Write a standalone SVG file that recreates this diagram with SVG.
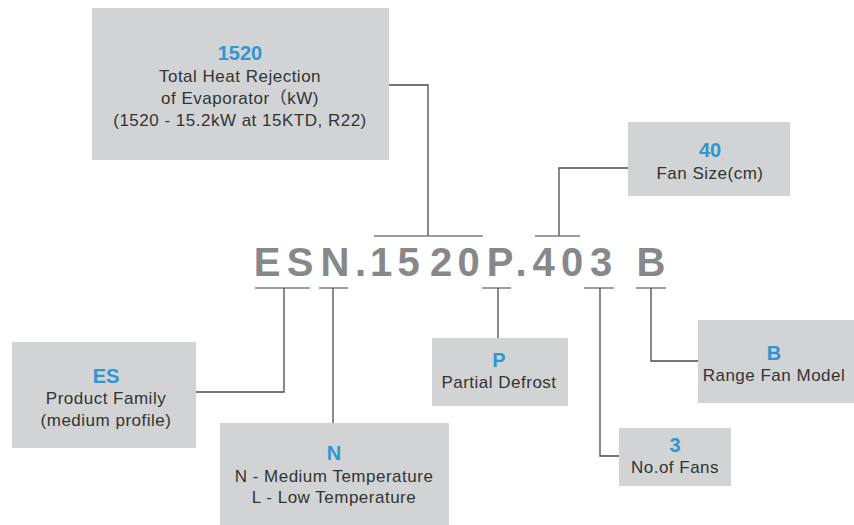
<svg xmlns="http://www.w3.org/2000/svg" width="854" height="525" viewBox="0 0 854 525">
<style>
.box{fill:#d1d3d4}
.t{font-family:"Liberation Sans",Arial,"Noto Sans CJK SC",sans-serif;font-size:17px;letter-spacing:0.5px;fill:#333;text-anchor:middle}
.h{font-family:"Liberation Sans",Arial,sans-serif;font-size:20px;font-weight:bold;fill:#3096d1;text-anchor:middle}
.code{font-family:"Liberation Sans",Arial,sans-serif;font-size:40px;font-weight:bold;fill:#87888a;text-anchor:middle}
.ln{fill:none;stroke:#4a4a4a;stroke-width:1.3}
.bar{fill:none;stroke:#7d7d7d;stroke-width:1.5}
</style>
<rect width="854" height="525" fill="#fff"/>
<g id="connectors">
<polyline class="ln" points="389,85 428,85 428,236"/>
<line class="bar" x1="374" y1="236" x2="483" y2="236"/>
<polyline class="ln" points="628,168 559,168 559,236"/>
<line class="bar" x1="535" y1="236" x2="580" y2="236"/>
<line class="bar" x1="255" y1="288" x2="310" y2="288"/>
<polyline class="ln" points="284,288 284,392 196,392"/>
<line class="bar" x1="319" y1="288" x2="348" y2="288"/>
<line class="ln" x1="333" y1="288" x2="333" y2="423"/>
<line class="bar" x1="482" y1="288" x2="511" y2="288"/>
<line class="ln" x1="498" y1="288" x2="498" y2="338"/>
<line class="bar" x1="584" y1="288" x2="614" y2="288"/>
<polyline class="ln" points="600,288 600,456 619,456"/>
<line class="bar" x1="636" y1="288" x2="666" y2="288"/>
<polyline class="ln" points="651,288 651,361 698,361"/>
</g>
<g id="code">
<text class="code" y="276"><tspan x="267">E</tspan><tspan x="300">S</tspan><tspan x="335">N</tspan><tspan x="360.5">.</tspan><tspan x="381">1</tspan><tspan x="408.5">5</tspan><tspan x="441">2</tspan><tspan x="468.5">0</tspan><tspan x="500">P</tspan><tspan x="521">.</tspan><tspan x="543.5">4</tspan><tspan x="572">0</tspan><tspan x="601">3</tspan><tspan x="651">B</tspan></text>
</g>
<g id="node-1520">
<rect class="box" x="92" y="8" width="297" height="152"/>
<text class="h" x="240" y="60">1520</text>
<text class="t" x="240" y="82">Total Heat Rejection</text>
<text class="t" x="240" y="104">of Evaporator（kW)</text>
<text class="t" x="240" y="126">(1520 - 15.2kW at 15KTD, R22)</text>
</g>
<g id="node-40">
<rect class="box" x="628" y="122" width="162" height="74"/>
<text class="h" x="710" y="157">40</text>
<text class="t" x="710" y="179">Fan Size(cm)</text>
</g>
<g id="node-ES">
<rect class="box" x="12" y="342" width="184" height="106"/>
<text class="h" x="106" y="383">ES</text>
<text class="t" x="106" y="404">Product Family</text>
<text class="t" x="106" y="426">(medium profile)</text>
</g>
<g id="node-N">
<rect class="box" x="220" y="423" width="229" height="102"/>
<text class="h" x="334" y="460">N</text>
<text class="t" x="334" y="482">N - Medium Temperature</text>
<text class="t" x="334" y="503">L - Low Temperature</text>
</g>
<g id="node-P">
<rect class="box" x="432" y="338" width="136" height="68"/>
<text class="h" x="499" y="367">P</text>
<text class="t" x="499" y="388">Partial Defrost</text>
</g>
<g id="node-3">
<rect class="box" x="619" y="428" width="112" height="58"/>
<text class="h" x="675" y="452">3</text>
<text class="t" x="675" y="473">No.of Fans</text>
</g>
<g id="node-B">
<rect class="box" x="698" y="320" width="156" height="83"/>
<text class="h" x="774" y="360">B</text>
<text class="t" x="774" y="381">Range Fan Model</text>
</g>
</svg>
